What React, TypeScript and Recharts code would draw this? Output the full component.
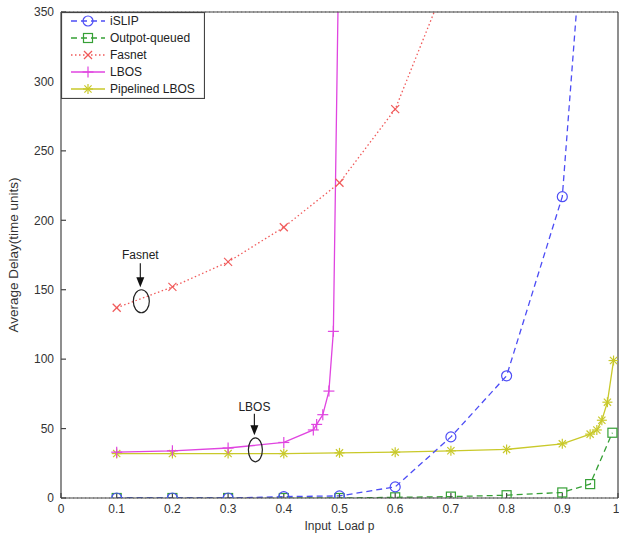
import React from 'react';
import { LineChart, Line, XAxis, YAxis, CartesianGrid, Legend, ReferenceDot } from 'recharts';

const xTicks = [0, 0.1, 0.2, 0.3, 0.4, 0.5, 0.6, 0.7, 0.8, 0.9, 1];
const yTicks = [0, 50, 100, 150, 200, 250, 300, 350];

const islipLoad = [0.1, 0.2, 0.3, 0.4, 0.5, 0.6, 0.7, 0.8, 0.9, 0.95];
const islipDelay = [0, 0, 0, 1, 1.5, 8, 44, 88, 217, 480];

const oqLoad = [0.1, 0.2, 0.3, 0.4, 0.5, 0.6, 0.7, 0.8, 0.9, 0.95, 0.99];
const oqDelay = [0, 0, 0, 0, 0, 0.5, 1, 2, 4, 10, 47];

const fasnetLoad = [0.1, 0.2, 0.3, 0.4, 0.5, 0.6, 0.7];
const fasnetDelay = [137, 152, 170, 195, 227, 280, 380];

const lbosLoad = [0.1, 0.2, 0.3, 0.4, 0.453, 0.459, 0.47, 0.481, 0.489, 0.499];
const lbosDelay = [33, 34, 36, 40, 49, 53, 60, 77, 120, 400];

const plbosLoad = [0.1, 0.2, 0.3, 0.4, 0.5, 0.6, 0.7, 0.8, 0.9, 0.95, 0.962, 0.971, 0.981, 0.992];
const plbosDelay = [32, 32, 32, 32, 32.5, 33, 34, 35, 39, 46, 49, 56, 69, 99];

const seriesNames = ['iSLIP', 'Outpot-queued', 'Fasnet', 'LBOS', 'Pipelined LBOS'];

const FONT = 'Liberation Sans, Arial, Helvetica, sans-serif';
const AXIS = '#444';

const C_BLUE = '#4d4df5';
const C_GREEN = '#36a036';
const C_RED = '#f05a5a';
const C_MAG = '#e045e0';
const C_YEL = '#c9c92a';

const zip = (xs: number[], ys: number[]) => xs.map((x, i) => ({ x, y: ys[i] }));

const islipData = zip(islipLoad, islipDelay);
const oqData = zip(oqLoad, oqDelay);
const fasnetData = zip(fasnetLoad, fasnetDelay);
const lbosData = zip(lbosLoad, lbosDelay);
const plbosData = zip(plbosLoad, plbosDelay);

type MK = 'circle' | 'square' | 'x' | 'plus' | 'star';

function Marker({ kind, cx, cy, color }: { kind: MK; cx: number; cy: number; color: string }) {
  const sw = 1.2;
  if (kind === 'circle') return <circle cx={cx} cy={cy} r={5} fill="none" stroke={color} strokeWidth={sw} />;
  if (kind === 'square') return <rect x={cx - 4.5} y={cy - 4.5} width={9} height={9} fill="none" stroke={color} strokeWidth={sw} />;
  if (kind === 'x')
    return (
      <g stroke={color} strokeWidth={sw}>
        <line x1={cx - 4} y1={cy - 4} x2={cx + 4} y2={cy + 4} />
        <line x1={cx - 4} y1={cy + 4} x2={cx + 4} y2={cy - 4} />
      </g>
    );
  if (kind === 'plus')
    return (
      <g stroke={color} strokeWidth={sw}>
        <line x1={cx - 5.5} y1={cy} x2={cx + 5.5} y2={cy} />
        <line x1={cx} y1={cy - 5.5} x2={cx} y2={cy + 5.5} />
      </g>
    );
  return (
    <g stroke={color} strokeWidth={sw}>
      <line x1={cx - 5} y1={cy} x2={cx + 5} y2={cy} />
      <line x1={cx} y1={cy - 5} x2={cx} y2={cy + 5} />
      <line x1={cx - 3.6} y1={cy - 3.6} x2={cx + 3.6} y2={cy + 3.6} />
      <line x1={cx - 3.6} y1={cy + 3.6} x2={cx + 3.6} y2={cy - 3.6} />
    </g>
  );
}

const dotFn = (kind: MK, color: string) => (p: any) => {
  const key = `${kind}-${p.index}`;
  if (p.cx == null || p.cy == null || isNaN(p.cx) || isNaN(p.cy)) return <g key={key} />;
  return (
    <g key={key}>
      <Marker kind={kind} cx={p.cx} cy={p.cy} color={color} />
    </g>
  );
};

const legendItems: { color: string; dash?: string; kind: MK }[] = [
  { color: C_BLUE, dash: '6 4', kind: 'circle' },
  { color: C_GREEN, dash: '6 4', kind: 'square' },
  { color: C_RED, dash: '1.5 2.5', kind: 'x' },
  { color: C_MAG, kind: 'plus' },
  { color: C_YEL, kind: 'star' },
];

function LegendBox() {
  const w = 144;
  const h = 87;
  return (
    <svg width={w} height={h} style={{ display: 'block' }}>
      <rect x={0.5} y={0.5} width={w - 1} height={h - 1} fill="#fff" stroke={AXIS} strokeWidth={1.2} />
      {legendItems.map((it, i) => {
        const y = 9 + i * 17;
        return (
          <g key={i}>
            <line x1={10} y1={y} x2={44} y2={y} stroke={it.color} strokeWidth={1.3} strokeDasharray={it.dash} />
            <Marker kind={it.kind} cx={27} cy={y} color={it.color} />
            <text x={49} y={y} dominantBaseline="central" fontSize={12} fontFamily={FONT} fill="#222">
              {seriesNames[i]}
            </text>
          </g>
        );
      })}
    </svg>
  );
}

function Annotation({ cx, cy, text, rx, ry, textDy, arrowTop }: any) {
  if (cx == null || cy == null) return <g />;
  const ax = cx - 1;
  const tip = cy - ry - 2.5;
  return (
    <g>
      <ellipse cx={cx} cy={cy} rx={rx} ry={ry} fill="none" stroke="#222" strokeWidth={1.2} />
      <line x1={ax} y1={cy - arrowTop} x2={ax} y2={tip - 6} stroke="#222" strokeWidth={1.2} />
      <polygon points={`${ax - 4},${tip - 10} ${ax + 4},${tip - 10} ${ax},${tip}`} fill="#111" />
      <text x={ax} y={cy - textDy} textAnchor="middle" dominantBaseline="central" fontSize={12} fontFamily={FONT} fill="#222">
        {text}
      </text>
    </g>
  );
}

const YLabel = (props: any) => {
  const vb = props.viewBox || {};
  const cy = (vb.y ?? 12) + (vb.height ?? 486) / 2;
  return (
    <text x={13} y={cy} transform={`rotate(-90 13 ${cy})`} textAnchor="middle" dominantBaseline="central" fontSize={13.5} fontFamily={FONT} fill="#333">
      Average Delay(time units)
    </text>
  );
};

const XLabel = (props: any) => {
  const vb = props.viewBox || {};
  const cx = (vb.x ?? 61) + (vb.width ?? 557) / 2;
  return (
    <text x={cx} y={526} textAnchor="middle" dominantBaseline="central" fontSize={12} fontFamily={FONT} fill="#333" style={{ whiteSpace: 'pre' }}>
      {'Input  Load p'}
    </text>
  );
};

const tickStyle = { fontSize: 12, fill: '#333', fontFamily: FONT };

export default function App() {
  return (
    <div style={{ position: 'absolute', left: 0, top: 0, width: 619, height: 540, background: '#fff' }}>
      <LineChart width={619} height={540} margin={{ top: 11, right: 0, left: 0, bottom: 12 }}>
        <CartesianGrid vertical={false} stroke="#8a8a8a" strokeDasharray="1.2 2.8" />
        <XAxis
          xAxisId="b"
          dataKey="x"
          type="number"
          domain={[0, 1]}
          ticks={xTicks}
          allowDataOverflow
          height={30}
          tickSize={-5}
          tickMargin={11}
          tick={tickStyle}
          axisLine={{ stroke: AXIS, strokeWidth: 1.2 }}
          tickLine={{ stroke: AXIS, strokeWidth: 1.2 }}
          label={<XLabel />}
        />
        <XAxis
          xAxisId="t"
          dataKey="x"
          type="number"
          orientation="top"
          domain={[0, 1]}
          ticks={xTicks}
          allowDataOverflow
          height={1}
          tickSize={-5}
          tick={false}
          axisLine={{ stroke: AXIS, strokeWidth: 1.2 }}
          tickLine={{ stroke: AXIS, strokeWidth: 1.2 }}
        />
        <YAxis
          yAxisId="l"
          type="number"
          domain={[0, 350]}
          ticks={yTicks}
          allowDataOverflow
          width={61}
          tickSize={-5}
          tickMargin={12}
          tick={tickStyle}
          axisLine={{ stroke: AXIS, strokeWidth: 1.2 }}
          tickLine={{ stroke: AXIS, strokeWidth: 1.2 }}
          label={<YLabel />}
        />
        <YAxis
          yAxisId="r"
          orientation="right"
          type="number"
          domain={[0, 350]}
          ticks={yTicks}
          allowDataOverflow
          width={1}
          tickSize={-5}
          tick={false}
          axisLine={{ stroke: AXIS, strokeWidth: 1.2 }}
          tickLine={{ stroke: AXIS, strokeWidth: 1.2 }}
        />
        <Line xAxisId="b" yAxisId="l" data={plbosData} dataKey="y" name={seriesNames[4]} stroke={C_YEL} strokeWidth={1.3} dot={dotFn('star', C_YEL)} isAnimationActive={false} type="linear" />
        <Line xAxisId="b" yAxisId="l" data={lbosData} dataKey="y" name={seriesNames[3]} stroke={C_MAG} strokeWidth={1.3} dot={dotFn('plus', C_MAG)} isAnimationActive={false} type="linear" />
        <Line xAxisId="b" yAxisId="l" data={fasnetData} dataKey="y" name={seriesNames[2]} stroke={C_RED} strokeWidth={1.3} strokeDasharray="1.5 2.5" dot={dotFn('x', C_RED)} isAnimationActive={false} type="linear" />
        <Line xAxisId="b" yAxisId="l" data={oqData} dataKey="y" name={seriesNames[1]} stroke={C_GREEN} strokeWidth={1.3} strokeDasharray="6 4" dot={dotFn('square', C_GREEN)} isAnimationActive={false} type="linear" />
        <Line xAxisId="b" yAxisId="l" data={islipData} dataKey="y" name={seriesNames[0]} stroke={C_BLUE} strokeWidth={1.3} strokeDasharray="6 4" dot={dotFn('circle', C_BLUE)} isAnimationActive={false} type="linear" />
        <ReferenceDot
          xAxisId="b"
          yAxisId="l"
          x={0.1442}
          y={141.7}
          shape={(p: any) => <Annotation cx={p.cx} cy={p.cy} text="Fasnet" rx={8} ry={11.5} textDy={46} arrowTop={38} />}
        />
        <ReferenceDot
          xAxisId="b"
          yAxisId="l"
          x={0.349}
          y={34.7}
          shape={(p: any) => <Annotation cx={p.cx} cy={p.cy} text="LBOS" rx={7} ry={12} textDy={43} arrowTop={36} />}
        />
        <Legend
          layout="horizontal"
          verticalAlign="middle"
          align="center"
          wrapperStyle={{ left: 61, top: 12, width: 144, height: 87 }}
          content={() => <LegendBox />}
        />
      </LineChart>
    </div>
  );
}
